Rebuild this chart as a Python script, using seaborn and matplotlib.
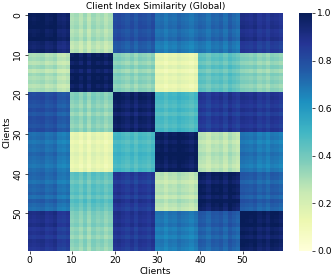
import matplotlib
matplotlib.use("Agg")
import matplotlib.pyplot as plt
import numpy as np
import seaborn as sns

# similarity between the six client groups (10 clients each)
group_similarity = [
    [0.98, 0.29, 0.79, 0.70, 0.72, 0.88],
    [0.29, 0.98, 0.35, 0.14, 0.43, 0.35],
    [0.79, 0.35, 0.97, 0.48, 0.86, 0.87],
    [0.70, 0.14, 0.48, 0.98, 0.27, 0.68],
    [0.72, 0.43, 0.86, 0.27, 0.98, 0.75],
    [0.88, 0.35, 0.87, 0.68, 0.75, 0.98],
]

# small per-client shift, this gives the stripes inside each block
client_shift = [
    0.01, 0.00, 0.01, 0.02, -0.01, 0.00, 0.02, -0.03, -0.04, -0.02,
    0.00, 0.02, -0.02, 0.03, -0.03, 0.03, 0.00, 0.02, -0.02, 0.01,
    0.01, 0.02, 0.00, -0.02, 0.01, -0.03, 0.01, 0.00, -0.02, 0.01,
    0.00, 0.01, -0.02, 0.01, 0.00, 0.03, 0.01, 0.00, -0.02, 0.01,
    0.01, 0.00, -0.03, 0.01, 0.00, 0.02, -0.02, 0.03, 0.00, -0.02,
    0.02, 0.01, 0.00, 0.02, -0.02, 0.00, -0.03, 0.01, 0.00, -0.02,
]

group_of_client = np.repeat(np.arange(6), 10)
blocks = np.array(group_similarity)[np.ix_(group_of_client, group_of_client)]
shift = np.array(client_shift)
similarity = np.clip(blocks + shift[:, None] + shift[None, :], 0, 1)

fig = plt.figure(figsize=(3.32, 2.78), dpi=100)
ax = fig.add_axes([27.5 / 332, 1 - 251 / 278, 255.5 / 332, 238 / 278])
cax = fig.add_axes([299 / 332, 1 - 251 / 278, 13 / 332, 238 / 278])

sns.heatmap(similarity, cmap="YlGnBu", vmin=0, vmax=1, ax=ax, cbar_ax=cax,
            xticklabels=10, yticklabels=10)

ax.set_title("Client Index Similarity (Global)", fontsize=6.5, pad=3)
ax.set_xlabel("Clients", fontsize=6.6, labelpad=1.5)
ax.set_ylabel("Clients", fontsize=6.6, labelpad=1)
ax.tick_params(labelsize=6.6, length=2.2, width=0.5, pad=1.5)
ax.tick_params(axis="x", labelrotation=0)
ax.tick_params(axis="y", labelrotation=90)
for label in ax.get_yticklabels():
    label.set_va("center")
cax.tick_params(labelsize=6.6, length=2.2, width=0.5, pad=1.5)
cax.set_yticks([0, 0.2, 0.4, 0.6, 0.8, 1.0])

fig.savefig("out.png", dpi=100)
